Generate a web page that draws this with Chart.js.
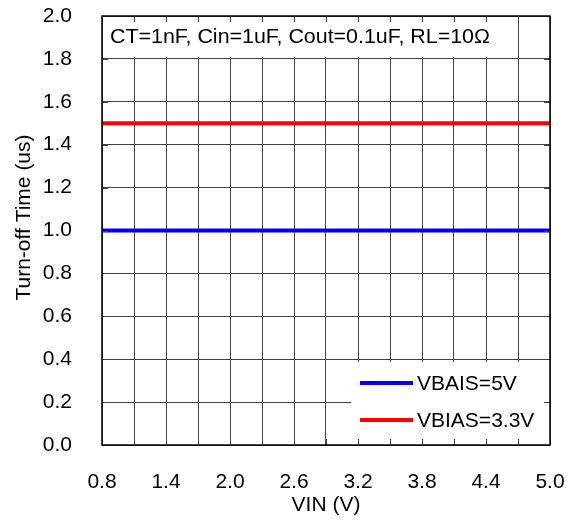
<!DOCTYPE html>
<html>
<head>
<meta charset="utf-8">
<script src="https://cdn.jsdelivr.net/npm/chart.js@4.4.1/dist/chart.umd.min.js"></script>
<style>
  html, body { margin: 0; padding: 0; background: #fff; }
  canvas { display: block; }
</style>
</head>
<body>
<canvas id="chart" width="574" height="521"></canvas>
<script>
// data
const vin = [0.8, 1.4, 2.0, 2.6, 3.2, 3.8, 4.4, 5.0];
const vbias5 = [1.0, 1.0, 1.0, 1.0, 1.0, 1.0, 1.0, 1.0];
const vbias33 = [1.5, 1.5, 1.5, 1.5, 1.5, 1.5, 1.5, 1.5];
const seriesLabels = ['VBAIS=5V', 'VBIAS=3.3V'];
const xTicks = [0.8, 1.1, 1.4, 1.7, 2.0, 2.3, 2.6, 2.9, 3.2, 3.5, 3.8, 4.1, 4.4, 4.7, 5.0];
const xLabels = [0.8, 1.4, 2.0, 2.6, 3.2, 3.8, 4.4, 5.0];
const yTicks = [0.0, 0.2, 0.4, 0.6, 0.8, 1.0, 1.2, 1.4, 1.6, 1.8, 2.0];
const note = 'CT=1nF, Cin=1uF, Cout=0.1uF, RL=10\u03A9';
const yTitle = 'Turn-off Time (us)';

const FONT = "'Liberation Sans', Arial, sans-serif";

function pts(ys) {
    return vin.map((x, i) => ({ x: x, y: ys[i] }));
}

// boxes, legend, tick marks, frame and y title drawn over the plot
const overlay = {
    id: 'overlay',
    afterDatasetsDraw(chart) {
        const ctx = chart.ctx;
        const a = chart.chartArea;
        const xs = chart.scales.x, ys = chart.scales.y;
        ctx.save();

        // note box (text in the reference is a bit wide, so stretch it)
        ctx.fillStyle = '#fff';
        ctx.fillRect(a.left + 1, a.top + 1, 400, 40);
        ctx.save();
        ctx.translate(a.left + 8, a.top + 27);
        ctx.scale(1.07, 1);
        ctx.fillStyle = '#000';
        ctx.font = '20px ' + FONT;
        ctx.textBaseline = 'alphabetic';
        ctx.textAlign = 'left';
        ctx.fillText(note, 0, 0);
        ctx.restore();

        // legend box
        const lx = a.right - 199, ly = a.bottom - 83;
        ctx.fillStyle = '#fff';
        ctx.fillRect(lx, ly, 198, 82);
        ctx.font = '21px ' + FONT;
        ctx.textBaseline = 'middle';
        ctx.textAlign = 'left';
        chart.data.datasets.forEach((ds, i) => {
            const y = ly + 21 + i * 37;
            ctx.strokeStyle = ds.borderColor;
            ctx.lineWidth = 4;
            ctx.beginPath();
            ctx.moveTo(lx + 9, y);
            ctx.lineTo(lx + 62, y);
            ctx.stroke();
            ctx.fillStyle = '#000';
            ctx.fillText(ds.label, lx + 66, y + 1);
        });

        // tick marks on all four sides
        ctx.strokeStyle = '#444';
        ctx.lineWidth = 1;
        ctx.beginPath();
        xTicks.forEach(v => {
            const px = Math.round(xs.getPixelForValue(v)) + 0.5;
            ctx.moveTo(px, a.top); ctx.lineTo(px, a.top + 6);
            ctx.moveTo(px, a.bottom); ctx.lineTo(px, a.bottom - 6);
        });
        yTicks.forEach(v => {
            const py = Math.round(ys.getPixelForValue(v)) + 0.5;
            ctx.moveTo(a.left, py); ctx.lineTo(a.left + 6, py);
            ctx.moveTo(a.right, py); ctx.lineTo(a.right - 6, py);
        });
        ctx.stroke();

        // frame
        ctx.strokeStyle = '#000';
        ctx.lineWidth = 1.5;
        ctx.strokeRect(a.left, a.top, a.right - a.left, a.bottom - a.top);

        // y title, sitting a little above the middle as in the reference
        ctx.translate(24, (a.top + a.bottom) / 2 - 13);
        ctx.rotate(-Math.PI / 2);
        ctx.fillStyle = '#000';
        ctx.font = '21px ' + FONT;
        ctx.textAlign = 'center';
        ctx.textBaseline = 'middle';
        ctx.fillText(yTitle, 0, 0);
        ctx.restore();
    }
};

new Chart(document.getElementById('chart'), {
    type: 'line',
    data: {
        datasets: [{
            label: seriesLabels[0],
            data: pts(vbias5),
            borderColor: '#0000ff',
            borderWidth: 4,
            pointRadius: 0,
            tension: 0
        }, {
            label: seriesLabels[1],
            data: pts(vbias33),
            borderColor: '#ff0000',
            borderWidth: 4,
            pointRadius: 0,
            tension: 0
        }]
    },
    options: {
        responsive: false,
        animation: false,
        layout: { padding: { top: 16, right: 24, left: 0, bottom: 0 } },
        plugins: {
            legend: { display: false },
            tooltip: { enabled: false }
        },
        scales: {
            x: {
                type: 'linear',
                min: 0.8,
                max: 5.0,
                afterBuildTicks: s => { s.ticks = xTicks.map(v => ({ value: v })); },
                afterFit: s => { s.height = 76; s.paddingLeft = 0; s.paddingRight = 0; },
                grid: { color: '#444', lineWidth: 1, drawTicks: false },
                border: { display: false },
                ticks: {
                    padding: 25,
                    color: '#000',
                    font: { family: FONT, size: 21 },
                    maxRotation: 0,
                    autoSkip: false,
                    callback: v => xLabels.some(l => Math.abs(l - v) < 1e-6) ? v.toFixed(1) : ''
                },
                title: {
                    display: true,
                    text: 'VIN (V)',
                    color: '#000',
                    font: { family: FONT, size: 21 },
                    padding: { top: 3, bottom: 3 }
                }
            },
            y: {
                min: 0,
                max: 2.0,
                afterBuildTicks: s => { s.ticks = yTicks.map(v => ({ value: v })); },
                afterFit: s => { s.width = 102; s.paddingTop = 0; s.paddingBottom = 0; },
                grid: { color: '#444', lineWidth: 1, drawTicks: false },
                border: { display: false },
                ticks: {
                    padding: 30,
                    color: '#000',
                    font: { family: FONT, size: 21 },
                    callback: v => v.toFixed(1)
                },
                title: { display: false }
            }
        }
    },
    plugins: [overlay]
});
</script>
</body>
</html>
